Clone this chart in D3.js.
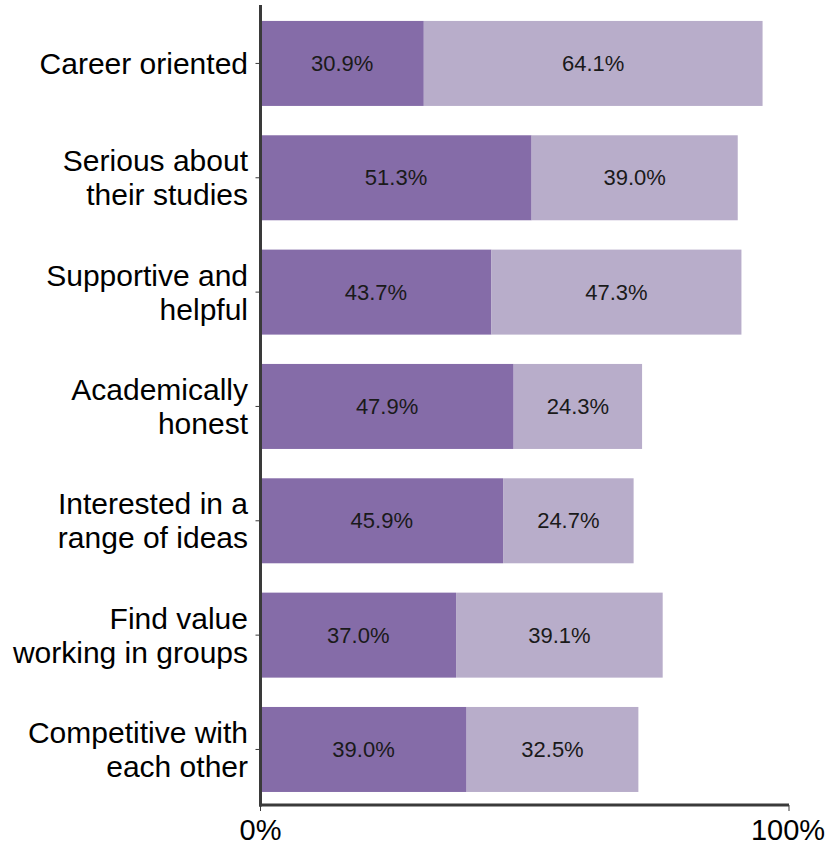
<!DOCTYPE html>
<html>
<head>
<meta charset="utf-8">
<script src="https://cdn.jsdelivr.net/npm/d3@7"></script>
<style>
  body { margin: 0; background: #fff; }
  text { font-family: "Liberation Sans", Arial, sans-serif; }
</style>
</head>
<body>
<svg id="chart" width="829" height="846"></svg>
<script>
// data
var categories = [
  ["Career oriented"],
  ["Serious about", "their studies"],
  ["Supportive and", "helpful"],
  ["Academically", "honest"],
  ["Interested in a", "range of ideas"],
  ["Find value", "working in groups"],
  ["Competitive with", "each other"]
];
var seriesA = [30.9, 51.3, 43.7, 47.9, 45.9, 37.0, 39.0];
var seriesB = [64.1, 39.0, 47.3, 24.3, 24.7, 39.1, 32.5];
var tickValues = [0, 100];

var colors = ["#856ca8", "#b8adca"];

var svg = d3.select("#chart");
// plot box (window.top is reserved, so use other names)
var plotL = 260.5, plotR = 789, plotT = 5, plotB = 805;

var x = d3.scaleLinear().domain([0, 100]).range([plotL, plotR]);
var y = d3.scaleBand().domain(d3.range(categories.length)).range([6.3, 806.6]).paddingInner(0.2566).paddingOuter(0.128);

var rows = categories.map(function(c, i){ return {i: i, a: seriesA[i], b: seriesB[i]}; });

var g = svg.selectAll(".row").data(rows).enter().append("g").attr("class", "row");

g.append("rect")
  .attr("x", x(0)).attr("y", function(d){ return y(d.i); })
  .attr("width", function(d){ return x(d.a) - x(0); })
  .attr("height", y.bandwidth())
  .attr("fill", colors[0]);

g.append("rect")
  .attr("x", function(d){ return x(d.a); }).attr("y", function(d){ return y(d.i); })
  .attr("width", function(d){ return x(d.a + d.b) - x(d.a); })
  .attr("height", y.bandwidth())
  .attr("fill", colors[1]);

g.append("text")
  .attr("x", function(d){ return (x(0) + x(d.a)) / 2; })
  .attr("y", function(d){ return y(d.i) + y.bandwidth()/2; })
  .attr("dy", "0.35em").attr("text-anchor", "middle")
  .attr("font-size", 22).attr("fill", "#1a1a1a")
  .text(function(d){ return d.a.toFixed(1) + "%"; });

g.append("text")
  .attr("x", function(d){ return (x(d.a) + x(d.a + d.b)) / 2; })
  .attr("y", function(d){ return y(d.i) + y.bandwidth()/2; })
  .attr("dy", "0.35em").attr("text-anchor", "middle")
  .attr("font-size", 22).attr("fill", "#1a1a1a")
  .text(function(d){ return d.b.toFixed(1) + "%"; });

// category labels, 1 or 2 lines
var lab = svg.selectAll(".cat").data(categories).enter().append("text")
  .attr("class", "cat")
  .attr("text-anchor", "end")
  .attr("font-size", 30).attr("fill", "#000");
lab.each(function(lines, i){
  var cy = y(i) + y.bandwidth()/2;
  var lh = 34;
  var start = cy - (lines.length - 1) * lh / 2;
  d3.select(this).selectAll("tspan").data(lines).enter().append("tspan")
    .attr("x", 248).attr("y", function(l, j){ return start + j*lh; })
    .attr("dy", "0.35em")
    .text(function(l){ return l; });
});

// small ticks at each category
svg.selectAll(".ytick").data(categories).enter().append("line")
  .attr("x1", plotL - 5).attr("x2", plotL)
  .attr("y1", function(d, i){ return y(i) + y.bandwidth()/2; })
  .attr("y2", function(d, i){ return y(i) + y.bandwidth()/2; })
  .attr("stroke", "#3a3a3a").attr("stroke-width", 1);

// axes
svg.append("line").attr("x1", plotL).attr("x2", plotL).attr("y1", plotT).attr("y2", plotB + 1.5)
  .attr("stroke", "#3a3a3a").attr("stroke-width", 3);
svg.append("line").attr("x1", plotL - 1.5).attr("x2", plotR).attr("y1", plotB).attr("y2", plotB)
  .attr("stroke", "#3a3a3a").attr("stroke-width", 3);
svg.selectAll(".xtick").data(tickValues).enter().append("line")
  .attr("x1", function(d){ return x(d); }).attr("x2", function(d){ return x(d); })
  .attr("y1", plotB).attr("y2", plotB + 6)
  .attr("stroke", "#3a3a3a").attr("stroke-width", 1);
svg.selectAll(".xlab").data(tickValues).enter().append("text")
  .attr("x", function(d){ return d === 100 ? x(d) - 1 : x(d); }).attr("y", 840)
  .attr("text-anchor", "middle").attr("font-size", 29).attr("fill", "#000")
  .text(function(d){ return d + "%"; });
</script>
</body>
</html>
